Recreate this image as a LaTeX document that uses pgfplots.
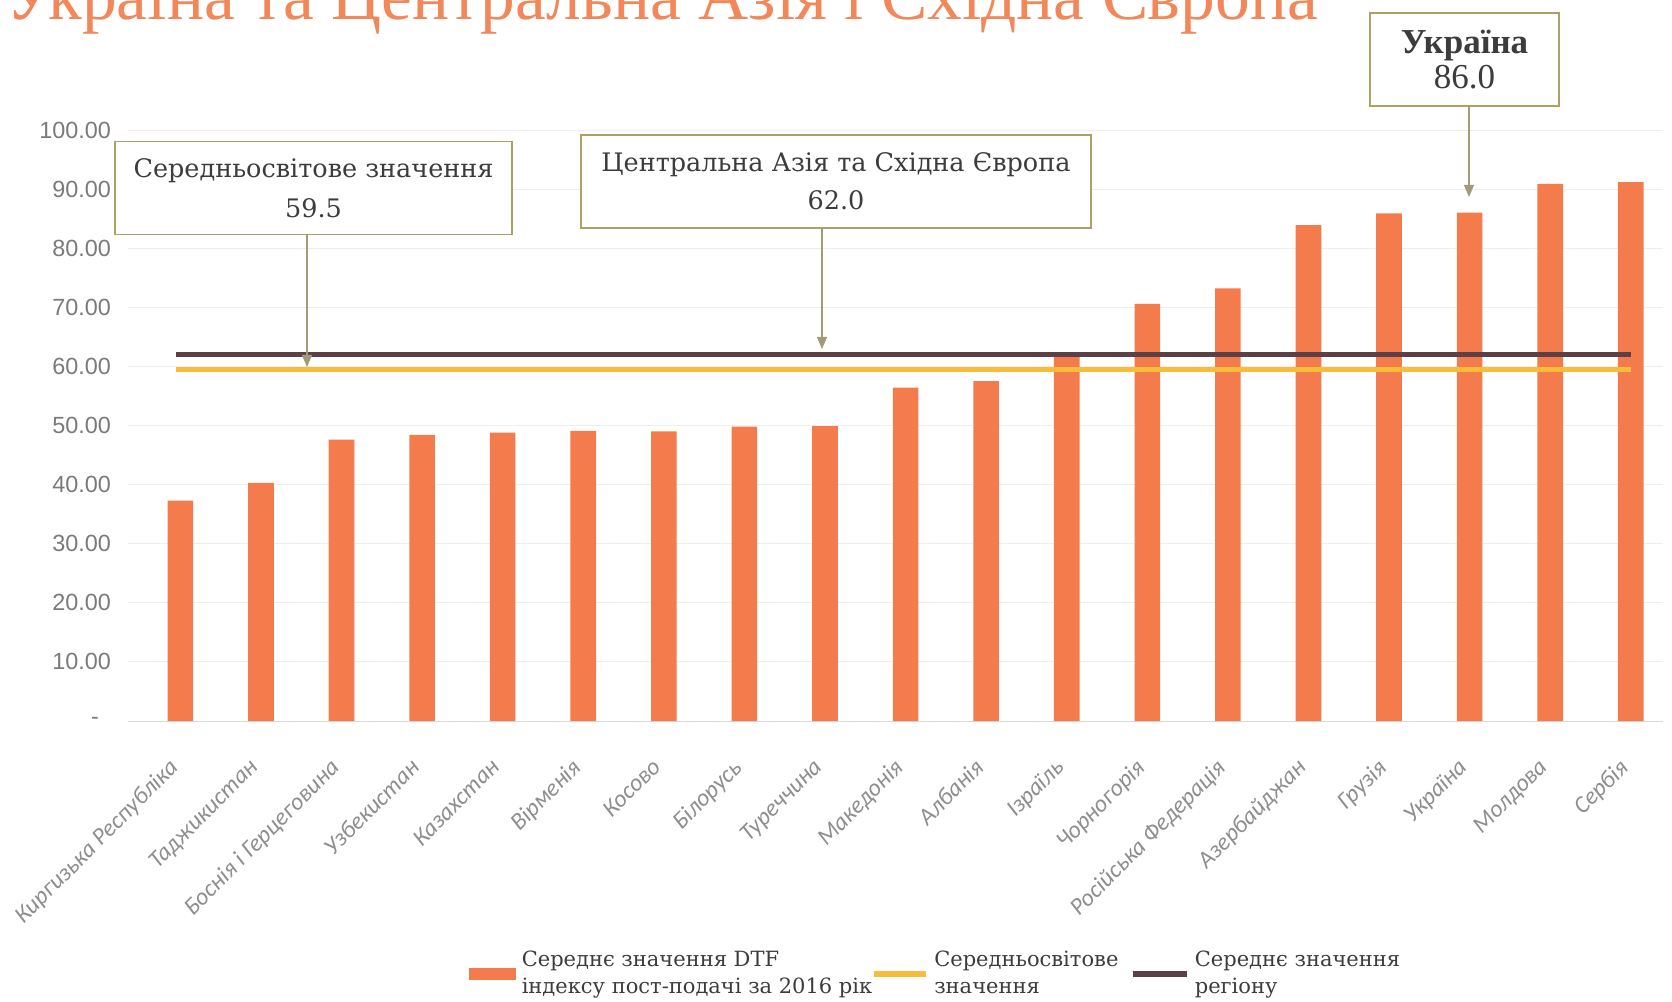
\documentclass[border=0pt]{standalone}
\usepackage{fontspec}
\setmainfont{DejaVu Serif}
\newfontfamily\sansfont{Liberation Sans}
\newfontfamily\carlito{Carlito}
\newfontfamily\tnr{Liberation Serif}
\usepackage{pgfplots}
\usepackage{pgfplotstable}
\pgfplotsset{compat=1.18}
\usetikzlibrary{arrows.meta}

\definecolor{barc}{HTML}{F47B4C}
\definecolor{worldc}{HTML}{F7BC3A}
\definecolor{regc}{HTML}{5B4048}
\definecolor{boxc}{HTML}{ABA262}
\definecolor{arrc}{HTML}{A39B78}
\definecolor{txtc}{HTML}{3C3C3C}
\definecolor{ytickc}{HTML}{7A7A7A}
\definecolor{xtickc}{HTML}{8E8E8E}
\definecolor{titlec}{HTML}{F2875A}

\pgfplotstableread{
x val
0 37.3
1 40.3
2 47.6
3 48.4
4 48.8
5 49.1
6 49.0
7 49.8
8 49.9
9 56.4
10 57.5
11 61.9
12 70.6
13 73.2
14 83.9
15 85.9
16 86.0
17 90.9
18 91.2
}\dtf

\pgfplotstableread{
x val
-0.05 59.5
18.0 59.5
}\world

\pgfplotstableread{
x val
-0.05 62.0
18.0 62.0
}\region

\begin{document}
\begin{tikzpicture}
\useasboundingbox (-64pt,-140.5pt) rectangle (772pt,360.5pt);
\node[anchor=base west, font=\tnr\fontsize{34.7}{40}\selectfont, text=titlec, inner sep=0pt] at (-61.5pt,350.5pt) {Україна та Центральна Азія і Східна Європа};
\begin{axis}[
  at={(0pt,0pt)}, anchor=south west,
  scale only axis, width=767.5pt, height=295.5pt,
  xmin=-0.65, xmax=18.4, ymin=0, ymax=100,
  axis x line*=bottom, axis y line*=left,
  y axis line style={draw=none},
  x axis line style={draw=gray!30, line width=0.5pt},
  major tick length=0pt,
  ytick={0,10,...,100},
  yticklabels={-\hspace*{6pt},10.00,20.00,30.00,40.00,50.00,60.00,70.00,80.00,90.00,100.00},
  yticklabel style={font=\sansfont\fontsize{11.7}{14}\selectfont, text=ytickc, xshift=-5pt},
  xtick={0,...,18},
  xticklabels={Киргизька Республіка,Таджикистан,Боснія і Герцеговина,Узбекистан,Казахстан,Вірменія,Косово,Білорусь,Туреччина,Македонія,Албанія,Ізраїль,Чорногорія,Російська Федерація,Азербайджан,Грузія,Україна,Молдова,Сербія},
  xticklabel style={xshift=-6.5pt, yshift=-16.5pt, rotate=45, anchor=north east, inner sep=1pt, font=\carlito\itshape\fontsize{12}{14}\selectfont, text=xtickc},
  ymajorgrids, grid style={draw=gray!13, line width=0.5pt},
  clip=false,
  legend columns=3,
  legend style={at={(0.222,-0.428)}, anchor=west, draw=none, fill=none, inner sep=0pt,
    font=\fontsize{10.5}{13.5}\selectfont, text=txtc,
    nodes={align=left, inner xsep=1pt},
    /tikz/every odd column/.append style={column sep=1.8pt},
    /tikz/every even column/.append style={column sep=-1.5pt}},
]
\addplot[ybar, bar width=12.8pt, fill=barc, draw=none,
  legend image code/.code={\fill[barc] (0pt,-3pt) rectangle (23.5pt,3pt);}]
  table[x=x, y=val]{\dtf};
\addlegendentry{Середнє значення DTF\\індексу пост-подачі за 2016 рік}
\addplot[worldc, line width=2.7pt,
  legend image code/.code={\draw[worldc, line width=2.7pt] (0pt,0pt) -- (26pt,0pt);}]
  table[x=x, y=val]{\world};
\addlegendentry{Середньосвітове\hspace*{6.2pt}\\значення}
\addplot[regc, line width=2.7pt,
  legend image code/.code={\draw[regc, line width=2.7pt] (0pt,0pt) -- (27pt,0pt);}]
  table[x=x, y=val]{\region};
\addlegendentry{Середнє значення\\регіону}
\end{axis}

% annotation boxes
\node[draw=boxc, line width=0.8pt, fill=white, minimum width=198.5pt, minimum height=46.5pt,
  align=center, text=txtc, font=\fontsize{12.75}{20}\selectfont] at (92.75pt,266.5pt)
  {Середньосвітове значення\\59.5};
\draw[arrc, line width=0.6pt, -{Triangle[width=5pt,length=6pt]}] (89.5pt,243.3pt) -- (89.5pt,177pt);

\node[draw=boxc, line width=0.8pt, fill=white, minimum width=255pt, minimum height=46.5pt,
  align=center, text=txtc, font=\fontsize{12.75}{19}\selectfont] at (354pt,269.75pt)
  {Центральна Азія та Східна Європа\\62.0};
\draw[arrc, line width=0.6pt, -{Triangle[width=5pt,length=6pt]}] (347pt,246.5pt) -- (347pt,186pt);

\node[draw=boxc, line width=0.8pt, fill=white, minimum width=94.5pt, minimum height=46.5pt,
  align=center, text=txtc, font=\tnr\fontsize{17.5}{17.5}\selectfont] at (668.25pt,330.75pt)
  {\textbf{Україна}\\86.0};
\draw[arrc, line width=0.6pt, -{Triangle[width=5pt,length=6pt]}] (670.5pt,307.5pt) -- (670.5pt,262pt);
\end{tikzpicture}
\end{document}
